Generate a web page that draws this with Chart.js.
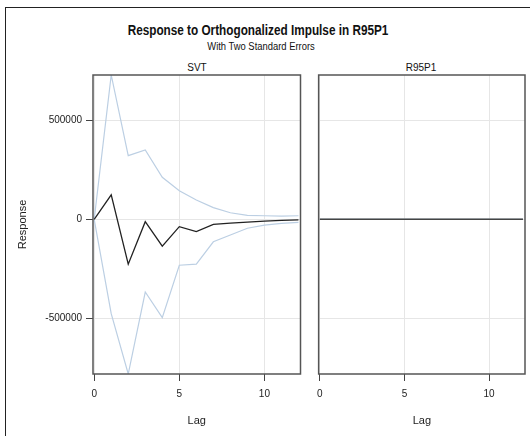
<!DOCTYPE html>
<html>
<head>
<meta charset="utf-8">
<script src="https://cdn.jsdelivr.net/npm/chart.js@4.4.0/dist/chart.umd.min.js"></script>
<style>
  html, body { margin: 0; padding: 0; background: #fff; }
  body { width: 530px; height: 436px; position: relative; overflow: hidden; font-family: "Liberation Sans", Arial, sans-serif; color: #111; }
  .frame { position: absolute; left: 5px; top: 7px; width: 700px; height: 600px; border-left: 1.5px solid #222; border-top: 1.5px solid #222; }
  .txt { position: absolute; white-space: nowrap; line-height: 1; }
  #title { left: 258px; top: 30px; font-size: 14px; font-weight: bold; transform: translate(-50%, -50%) scaleX(0.84); }
  #subtitle { left: 261px; top: 47px; font-size: 10px; transform: translate(-50%, -50%) scaleX(0.94); }
  .panelHead { top: 68px; font-size: 10px; transform: translate(-50%, -50%); }
  canvas { position: absolute; top: 0; }
</style>
</head>
<body>
<div class="frame"></div>
<div class="txt" id="title">Response to Orthogonalized Impulse in R95P1</div>
<div class="txt" id="subtitle">With Two Standard Errors</div>
<div class="txt panelHead" style="left:197px">SVT</div>
<div class="txt panelHead" style="left:421px">R95P1</div>
<div style="position:absolute;left:0;top:0;width:310px;height:436px"><canvas id="svtChart"></canvas></div>
<div style="position:absolute;left:310px;top:0;width:220px;height:436px"><canvas id="r95Chart"></canvas></div>
<script>
// impulse response data
const lags = [0, 1, 2, 3, 4, 5, 6, 7, 8, 9, 10, 11, 12];
const svtResponse = [0, 123000, -226000, -12000, -135000, -37000, -62000, -25000, -19000, -14000, -9000, -5000, -3000];
const svtUpper = [0, 727000, 321000, 350000, 212000, 144000, 97000, 59000, 33000, 20000, 18000, 16500, 18000];
const svtLower = [0, -475000, -779000, -366000, -495000, -231000, -226000, -113000, -79000, -45000, -29000, -20000, -15000];
const r95Response = [0, 0, 0, 0, 0, 0, 0, 0, 0, 0, 0, 0, 0];
const r95Upper = [0, 0, 0, 0, 0, 0, 0, 0, 0, 0, 0, 0, 0];
const r95Lower = [0, 0, 0, 0, 0, 0, 0, 0, 0, 0, 0, 0, 0];
const xTicks = [0, 5, 10];
const yTicks = [-500000, 0, 500000];

const bandColor = '#bccfe3';
const gridColor = '#e6e6e6';
const fontFamily = '"Liberation Sans", Arial, sans-serif';

// frame around the plot area on all four sides
const panelFrame = {
    id: 'panelFrame',
    afterDraw(chart) {
        const a = chart.chartArea;
        const ctx = chart.ctx;
        ctx.save();
        ctx.strokeStyle = '#555';
        ctx.lineWidth = 1.5;
        ctx.strokeRect(a.left, a.top, a.right - a.left, a.bottom - a.top);
        ctx.restore();
    }
};

function toPoints(values) {
    return values.map((v, i) => ({ x: lags[i], y: v }));
}

function makePanel(canvasId, response, upper, lower, opts) {
    const ctx = document.getElementById(canvasId).getContext('2d');
    return new Chart(ctx, {
        type: 'line',
        data: {
            datasets: [
                // first dataset is drawn on top
                { data: toPoints(response), borderColor: opts.lineColor, borderWidth: opts.lineWidth },
                { data: toPoints(upper), borderColor: bandColor, borderWidth: 1.2 },
                { data: toPoints(lower), borderColor: bandColor, borderWidth: 1.2 }
            ]
        },
        options: {
            responsive: true,
            maintainAspectRatio: false,
            animation: false,
            layout: { padding: { left: 0, top: 75, right: opts.padRight, bottom: 0 } },
            elements: { point: { radius: 0 }, line: { tension: 0 } },
            plugins: { legend: { display: false }, tooltip: { enabled: false } },
            scales: {
                x: {
                    type: 'linear',
                    min: -0.07,
                    max: 12.12,
                    afterBuildTicks: s => { s.ticks = xTicks.map(v => ({ value: v })); },
                    afterFit: s => { s.height = 62; },
                    border: { display: false },
                    grid: { color: gridColor, tickColor: '#444', tickLength: 7 },
                    ticks: { color: '#222', padding: 7, maxRotation: 0, font: { family: fontFamily, size: 10 }, callback: v => String(v) },
                    title: { display: true, text: 'Lag', color: '#222', padding: { top: 0, bottom: 8 }, font: { family: fontFamily, size: 11 } }
                },
                y: {
                    min: -779000,
                    max: 727000,
                    afterBuildTicks: s => { s.ticks = yTicks.map(v => ({ value: v })); },
                    afterFit: s => { s.width = opts.yWidth; },
                    border: { display: false },
                    grid: { color: gridColor, tickColor: '#444', tickLength: 7, drawTicks: opts.showY },
                    ticks: { display: opts.showY, color: '#222', padding: 4, font: { family: fontFamily, size: 10 }, callback: v => String(v) },
                    title: { display: opts.showY, text: 'Response', color: '#222', padding: { top: 16, bottom: 0 }, font: { family: fontFamily, size: 11 } }
                }
            }
        },
        plugins: [panelFrame]
    });
}

makePanel('svtChart', svtResponse, svtUpper, svtLower,
    { yWidth: 93, padRight: 9.5, showY: true, lineColor: '#222', lineWidth: 1.3 });
makePanel('r95Chart', r95Response, r95Upper, r95Lower,
    { yWidth: 8, padRight: 5, showY: false, lineColor: '#444', lineWidth: 1.5 });
</script>
</body>
</html>
